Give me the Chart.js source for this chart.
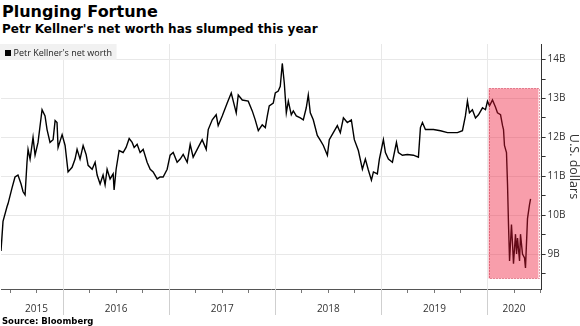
<!DOCTYPE html>
<html>
<head>
<meta charset="utf-8">
<script src="https://cdn.jsdelivr.net/npm/chart.js@4/dist/chart.umd.min.js"></script>
<style>
  html, body { margin: 0; padding: 0; background: #fff; }
  body { width: 580px; height: 326px; position: relative; overflow: hidden; font-family: "DejaVu Sans", sans-serif; color: #000; }
  .title { position: absolute; left: 2px; top: 2.5px; font-size: 16px; line-height: 18px; font-weight: bold; white-space: nowrap; }
  .subtitle { position: absolute; left: 2px; top: 22.4px; font-size: 12px; line-height: 14px; font-weight: bold; white-space: nowrap; }
  .source { position: absolute; left: 2px; top: 315.5px; font-size: 8.5px; line-height: 10px; font-weight: bold; white-space: nowrap; }
  .wrap { position: absolute; left: 0; top: 36px; width: 580px; height: 289px; }
</style>
</head>
<body>
<div class="title">Plunging Fortune</div>
<div class="subtitle">Petr Kellner's net worth has slumped this year</div>
<div class="wrap"><canvas id="worthChart"></canvas></div>
<div class="source">Source: Bloomberg</div>

<script>
// Net worth, billions of USD, x as fractional year
const dates = [
  2015.415, 2015.434, 2015.472, 2015.481, 2015.519, 2015.547, 2015.575, 2015.604, 2015.623, 2015.642,
  2015.660, 2015.670, 2015.689, 2015.717, 2015.736, 2015.764, 2015.802, 2015.830, 2015.849, 2015.877,
  2015.906, 2015.925, 2015.943, 2015.953, 2015.991, 2016.019, 2016.047, 2016.085, 2016.113, 2016.132,
  2016.160, 2016.189, 2016.217, 2016.236, 2016.274, 2016.302, 2016.321, 2016.349, 2016.377, 2016.396,
  2016.415, 2016.443, 2016.472, 2016.481, 2016.500, 2016.528, 2016.566, 2016.594, 2016.623, 2016.651,
  2016.670, 2016.698, 2016.726, 2016.755, 2016.792, 2016.821, 2016.849, 2016.887, 2016.915, 2016.943,
  2016.981, 2017.009, 2017.038, 2017.075, 2017.104, 2017.132, 2017.170, 2017.198, 2017.226, 2017.264,
  2017.311, 2017.349, 2017.368, 2017.406, 2017.443, 2017.462, 2017.500, 2017.547, 2017.585, 2017.632,
  2017.651, 2017.689, 2017.745, 2017.783, 2017.811, 2017.840, 2017.877, 2017.906, 2017.925, 2017.943,
  2017.981, 2018.000, 2018.028, 2018.047, 2018.066, 2018.085, 2018.104, 2018.123, 2018.151, 2018.170,
  2018.198, 2018.236, 2018.264, 2018.292, 2018.311, 2018.330, 2018.358, 2018.396, 2018.425, 2018.453,
  2018.491, 2018.509, 2018.547, 2018.585, 2018.613, 2018.642, 2018.679, 2018.717, 2018.745, 2018.783,
  2018.821, 2018.849, 2018.877, 2018.906, 2018.925, 2018.962, 2018.981, 2019.019, 2019.038, 2019.066,
  2019.104, 2019.142, 2019.160, 2019.198, 2019.245, 2019.302, 2019.349, 2019.368, 2019.387, 2019.415,
  2019.491, 2019.557, 2019.623, 2019.717, 2019.764, 2019.792, 2019.811, 2019.830, 2019.858, 2019.887,
  2019.915, 2019.953, 2019.981, 2020.000, 2020.019, 2020.047, 2020.075, 2020.094, 2020.123, 2020.142,
  2020.151, 2020.160, 2020.179, 2020.189, 2020.198, 2020.208, 2020.226, 2020.236, 2020.245, 2020.264,
  2020.274, 2020.283, 2020.302, 2020.311, 2020.330, 2020.349, 2020.358, 2020.377, 2020.396, 2020.406
];
const netWorth = [
  9.08, 9.84, 10.22, 10.29, 10.70, 10.98, 11.03, 10.80, 10.60, 10.52,
  11.36, 11.69, 11.44, 12.00, 11.54, 11.87, 12.71, 12.55, 12.20, 11.87,
  11.94, 12.43, 12.38, 11.74, 12.07, 11.79, 11.11, 11.23, 11.44, 11.69,
  11.44, 11.79, 11.56, 11.28, 11.18, 11.36, 11.03, 10.80, 11.03, 10.78,
  11.18, 10.93, 11.06, 10.65, 11.18, 11.66, 11.61, 11.74, 11.97, 11.87,
  11.74, 11.82, 11.61, 11.69, 11.36, 11.18, 11.11, 10.93, 10.98, 10.98,
  11.18, 11.54, 11.61, 11.36, 11.44, 11.56, 11.36, 11.82, 11.49, 11.69,
  11.94, 11.69, 12.20, 12.45, 12.58, 12.30, 12.55, 12.88, 13.14, 12.63,
  13.09, 12.96, 12.93, 12.68, 12.45, 12.17, 12.32, 12.25, 12.55, 12.81,
  12.88, 13.14, 13.19, 13.31, 13.90, 13.39, 12.63, 12.93, 12.58, 12.68,
  12.55, 12.50, 12.45, 12.76, 13.09, 12.63, 12.45, 12.05, 11.92, 11.79,
  11.54, 11.94, 12.12, 12.30, 12.12, 12.50, 12.38, 12.45, 11.94, 11.66,
  11.18, 11.44, 11.16, 10.90, 11.11, 11.06, 11.44, 11.94, 11.61, 11.44,
  11.36, 11.87, 11.61, 11.54, 11.56, 11.54, 11.49, 12.25, 12.38, 12.20,
  12.20, 12.17, 12.12, 12.12, 12.17, 12.55, 12.93, 12.63, 12.71, 12.50,
  12.58, 12.76, 12.71, 12.93, 12.81, 12.96, 12.78, 12.63, 12.58, 12.30,
  12.20, 11.79, 11.61, 10.77, 9.76, 8.82, 9.76, 9.25, 8.75, 9.51,
  9.00, 9.41, 8.82, 9.51, 9.00, 8.90, 8.64, 9.91, 10.27, 10.42
];

const yearLabels = ['2015', '2016', '2017', '2018', '2019', '2020'];
const yMajorTicks = [9, 10, 11, 12, 13, 14];

// highlighted period (the 2020 slump)
const slumpStart = 2020.01, slumpEnd = 2020.48;
const slumpLow = 8.37, slumpHigh = 13.26;

const xMin = 2015.415, xMax = 2020.51;
const yMin = 8.1, yMax = 14.4;

const labelFont = { family: 'Open Sans', size: 10 };

// quarterly ticks along the time axis
const quarterTicks = [];
for (let q = Math.ceil(xMin * 4); q <= Math.floor(xMax * 4); q++) quarterTicks.push(q / 4);

// year label goes at the middle of the visible part of each year, snapped to a quarter
function yearLabelAt(v) {
  for (let i = 0; i < yearLabels.length; i++) {
    const yr = +yearLabels[i];
    const mid = (Math.max(yr, xMin) + Math.min(yr + 1, xMax)) / 2;
    if (Math.abs(Math.round(mid * 4) / 4 - v) < 1e-6) return yearLabels[i];
  }
  return '';
}

const yTickValues = [];
yMajorTicks.forEach(v => { yTickValues.push(v - 0.5, v); });

const isWhole = v => Math.abs(v - Math.round(v)) < 1e-6;

// long separators between year labels, below the axis
const yearSeparators = {
  id: 'yearSeparators',
  afterDraw(chart) {
    const { ctx, chartArea, scales } = chart;
    ctx.save();
    ctx.strokeStyle = '#cfcfcf';
    ctx.lineWidth = 1;
    quarterTicks.filter(isWhole).forEach(v => {
      const px = Math.round(scales.x.getPixelForValue(v)) + 0.5;
      ctx.beginPath();
      ctx.moveTo(px, chartArea.bottom);
      ctx.lineTo(px, chartArea.bottom + 26);
      ctx.stroke();
    });
    ctx.restore();
  }
};

// translucent red box over the slump
const slumpBox = {
  id: 'slumpBox',
  afterDatasetsDraw(chart) {
    const { ctx, scales } = chart;
    const x0 = scales.x.getPixelForValue(slumpStart);
    const x1 = scales.x.getPixelForValue(slumpEnd);
    const y0 = scales.y.getPixelForValue(slumpHigh);
    const y1 = scales.y.getPixelForValue(slumpLow);
    ctx.save();
    ctx.fillStyle = 'rgba(238, 25, 55, 0.42)';
    ctx.fillRect(x0, y0, x1 - x0, y1 - y0);
    ctx.strokeStyle = 'rgba(190, 20, 50, 0.8)';
    ctx.setLineDash([1, 2]);
    ctx.lineWidth = 1;
    ctx.strokeRect(Math.round(x0) + 0.5, Math.round(y0) + 0.5, Math.round(x1 - x0), Math.round(y1 - y0));
    ctx.restore();
  }
};

// small boxed legend in the top-left corner of the plot
const boxLegend = {
  id: 'boxLegend',
  afterDraw(chart) {
    const { ctx, chartArea } = chart;
    const ds = chart.data.datasets[0];
    ctx.save();
    ctx.font = '9px "Open Sans"';
    const w = ctx.measureText(ds.label).width;
    const left = chartArea.left - 1, top = chartArea.top;
    ctx.fillStyle = '#f1f1f1';
    ctx.fillRect(left, top, w + 18, 16);
    ctx.fillStyle = ds.borderColor;
    ctx.fillRect(left + 5, top + 6, 6, 6);
    ctx.fillStyle = '#222';
    ctx.textBaseline = 'middle';
    ctx.fillText(ds.label, left + 13.5, top + 9);
    ctx.restore();
  }
};

new Chart(document.getElementById('worthChart'), {
  type: 'line',
  data: {
    datasets: [{
      label: "Petr Kellner's net worth",
      data: dates.map((d, i) => ({ x: d, y: netWorth[i] })),
      borderColor: '#000000',
      borderWidth: 1.4,
      pointRadius: 0,
      tension: 0,
      fill: false
    }]
  },
  options: {
    responsive: true,
    maintainAspectRatio: false,
    animation: false,
    layout: { padding: { top: 4, left: 1, right: 0, bottom: 0 } },
    plugins: {
      legend: { display: false },
      tooltip: { enabled: false }
    },
    scales: {
      x: {
        type: 'linear',
        min: xMin,
        max: xMax,
        afterBuildTicks: scale => { scale.ticks = quarterTicks.map(v => ({ value: v })); },
        ticks: {
          autoSkip: false,
          maxRotation: 0,
          padding: 10,
          color: '#333',
          font: labelFont,
          callback: v => yearLabelAt(v)
        },
        grid: {
          color: ctx => (ctx.tick && isWhole(ctx.tick.value)) ? '#e8e8e8' : 'rgba(0,0,0,0)',
          tickColor: '#777',
          tickLength: 4,
          lineWidth: 1
        },
        border: { color: '#555' }
      },
      y: {
        position: 'right',
        min: yMin,
        max: yMax,
        afterBuildTicks: scale => { scale.ticks = yTickValues.map(v => ({ value: v })); },
        ticks: {
          autoSkip: false,
          padding: 2,
          color: '#333',
          font: labelFont,
          callback: v => isWhole(v) ? v + 'B' : ''
        },
        grid: {
          color: ctx => (ctx.tick && isWhole(ctx.tick.value)) ? '#e8e8e8' : 'rgba(0,0,0,0)',
          tickColor: '#333',
          tickLength: 4,
          lineWidth: 1
        },
        border: { color: '#333' },
        title: {
          display: true,
          text: 'U.S. dollars',
          color: '#333',
          font: { family: 'Open Sans', size: 12.5, lineHeight: 1 },
          padding: { top: 0, bottom: 0 }
        }
      }
    }
  },
  plugins: [slumpBox, yearSeparators, boxLegend]
});
</script>
</body>
</html>
